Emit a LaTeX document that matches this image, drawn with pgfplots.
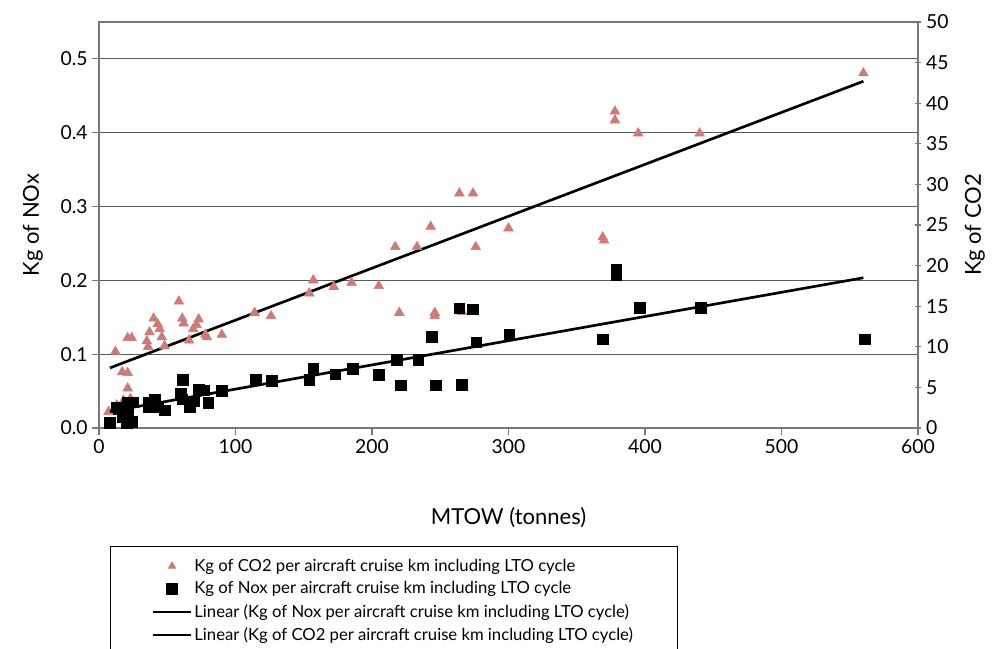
\documentclass[border=0pt]{standalone}
\usepackage{pgfplots}
\pgfplotsset{compat=1.18}
\usepackage{fontspec}
\setmainfont{Lato}
\definecolor{tri}{RGB}{207,122,122}
\definecolor{axgray}{RGB}{120,120,120}
\definecolor{gridgray}{RGB}{90,90,90}

\pgfplotstableread{
x y
7 2.0
12 9.4
13 2.8
17 6.9
18 3.4
21 11.1
21 6.8
21 4.9
23 3.6
24 11.1
35 10.7
36 10.0
37 11.8
40 13.5
43 12.8
44.5 12.2
46 11.2
48 10.1
58.5 15.6
61 13.5
62 12.9
66 10.8
69 12.2
71.5 12.7
73 13.4
78 11.5
79 11.2
90 11.5
114 14.2
126 13.8
154 16.6
157 18.2
172 17.4
185 17.9
205 17.5
217 22.3
220 14.2
233 22.3
243 24.8
246 14.2
246 13.8
264 28.9
266 14.3
274 28.9
276 22.3
300 24.6
369 23.5
370 23.1
378 39.0
378 37.9
395 36.3
440 36.3
560 43.7
}\cotwo

\pgfplotstableread{
x y
8 0.007
14 0.026
17 0.015
20.5 0.007
24 0.008
21 0.034
25 0.035
21 0.020
13 0.028
36 0.028
36.6 0.035
41 0.038
43 0.029
48 0.024
60 0.046
61.5 0.065
61 0.039
66.5 0.028
69.5 0.036
73 0.052
77 0.051
80 0.034
90 0.050
115 0.066
126.5 0.064
154 0.065
157 0.080
173 0.073
186 0.080
205 0.072
218 0.092
221 0.058
234 0.092
244 0.124
246.5 0.058
264 0.162
266 0.059
274 0.161
276.5 0.116
300.5 0.126
369 0.120
379 0.215
379 0.208
396 0.163
441 0.163
561 0.120
}\nox

\pgfplotsset{
  base/.style={
    scale only axis, width=614.25pt, height=304.5pt,
    at={(0,0)}, anchor=south west,
    xmin=0, xmax=600,
    /pgf/number format/assume math mode=true,
    tick label style={font=\fontsize{14.5}{17}\selectfont},
    label style={font=\fontsize{16.5}{19}\selectfont},
    axis line style={axgray, line width=0.8pt},
    tick style={axgray, line width=0.8pt},
    major tick length=5pt,
  },
  linleg/.style={legend image code/.code={\draw[##1] (0pt,0pt) -- (28pt,0pt);}},
  markleg/.style={legend image code/.code={\draw[mark repeat=2,mark phase=2,##1] plot coordinates {(0pt,0pt) (14pt,0pt) (28pt,0pt)};}},
}

\begin{document}
\begin{tikzpicture}
\useasboundingbox (-74.25pt,-165.75pt) rectangle (680.25pt,321pt);

% Left NOx axis with grid
\begin{axis}[base,
  ymin=0, ymax=0.55,
  ytick={0,0.1,0.2,0.3,0.4,0.5},
  y tick label style={/pgf/number format/.cd, fixed, fixed zerofill, precision=1},
  xtick={0,100,200,300,400,500,600},
  ymajorgrids, grid style={gridgray, line width=0.7pt},
  ytick pos=left, xtick pos=bottom, tick align=outside,
  xlabel={MTOW (tonnes)}, ylabel={Kg of NOx},
  xlabel style={at={(axis description cs:0.5,-0.2217)}, anchor=center},
  ylabel style={at={(axis description cs:-0.0806,0.5)}, anchor=center, rotate=0},
]
\addplot[draw=none] coordinates {(0,0)};
\end{axis}

% Right CO2 axis with triangles
\begin{axis}[base,
  ymin=0, ymax=50,
  ytick={0,5,10,15,20,25,30,35,40,45,50},
  axis y line*=right, axis x line=none, tick align=center,
  ylabel={Kg of CO2},
  ylabel style={at={(axis description cs:1.0696,0.5)}, anchor=center, rotate=0},
]
\addplot[only marks, mark=triangle*, mark size=4.2pt, tri, mark options={draw=tri, fill=tri}] table[x=x,y=y] {\cotwo};
\addplot[black, line width=2pt] coordinates {(8,7.4) (560,42.7)};
\end{axis}

% NOx data and legend
\begin{axis}[base,
  ymin=0, ymax=0.55, hide axis,
  legend style={at={(axis description cs:0,0)}, anchor=north west,
    xshift=8.25pt, yshift=-88.5pt, draw=black, line width=0.6pt,
    font=\fontsize{12.5}{15}\selectfont, inner xsep=31.5pt, inner ysep=7.5pt,
    row sep=2.2pt},
  legend cell align=left,
]
\addlegendimage{only marks, mark=triangle*, mark size=3.2pt, tri, mark options={draw=tri, fill=tri}, markleg}
\addlegendentry{Kg of CO2 per aircraft cruise km including LTO cycle}
\addplot[only marks, mark=square*, mark size=4pt, black, markleg] table[x=x,y=y] {\nox};
\addlegendentry{Kg of Nox per aircraft cruise km including LTO cycle}
\addplot[black, line width=2pt, linleg, forget plot] coordinates {(8,0.0225) (560,0.2035)};
\addlegendimage{black, line width=1.5pt, linleg}
\addlegendentry{Linear (Kg of Nox per aircraft cruise km including LTO cycle)}
\addlegendimage{black, line width=1.5pt, linleg}
\addlegendentry{Linear (Kg of CO2 per aircraft cruise km including LTO cycle)}
\end{axis}
\end{tikzpicture}
\end{document}
